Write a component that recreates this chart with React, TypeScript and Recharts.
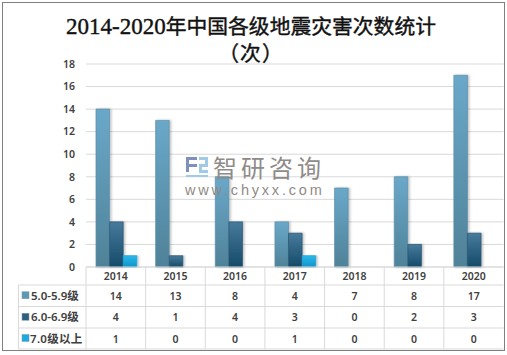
import React from 'react';
import { BarChart, Bar, XAxis, YAxis, CartesianGrid } from 'recharts';

const years = ['2014', '2015', '2016', '2017', '2018', '2019', '2020'];
const mag5 = [14, 13, 8, 4, 7, 8, 17];
const mag6 = [4, 1, 4, 3, 0, 2, 3];
const mag7 = [1, 0, 0, 1, 0, 0, 0];
const yTicks = [0, 2, 4, 6, 8, 10, 12, 14, 16, 18];

const seriesKeys = ['mag5', 'mag6', 'mag7'];
const seriesNames = ['5.0-5.9级', '6.0-6.9级', '7.0级以上'];
const seriesFills = ['url(#g5)', 'url(#g6)', 'url(#g7)'];
const seriesStrokes = ['#5b8ca6', '#2a5570', '#1a9ccf'];
const legendColors = ['#5f97b5', '#2f5f7f', '#1aa9e0'];
const seriesValues = [mag5, mag6, mag7];

const data = years.map((year, i) => ({ year, mag5: mag5[i], mag6: mag6[i], mag7: mag7[i] }));

const WIDTH = 507;
const HEIGHT = 355;
const PLOT_LEFT = 86;
const PLOT_RIGHT = 503.5;
const PLOT_TOP = 64;
const PLOT_BOTTOM = 267;
const TABLE_LEFT = 18.5;
const AXIS_W = 30;
const rowLines = [267, 285, 306.5, 328, 349];
const GRID = '#d9d9d9';
const TEXT = '#404040';
const cellFont = '"Noto Sans", "Noto Sans CJK SC", sans-serif';

const DataTable = () => {
  const colW = (PLOT_RIGHT - PLOT_LEFT) / years.length;
  const colX = (i: number) => PLOT_LEFT + colW * i;
  const midY = (r: number) => (rowLines[r] + rowLines[r + 1]) / 2 + 4;
  return (
    <svg width={WIDTH} height={HEIGHT} style={{ position: 'absolute', left: 0, top: 0 }}>
      {rowLines.map((y, i) => (
        <line key={y} x1={i === 0 ? PLOT_LEFT : TABLE_LEFT} x2={PLOT_RIGHT} y1={y} y2={y} stroke={GRID} />
      ))}
      <line x1={TABLE_LEFT} x2={TABLE_LEFT} y1={rowLines[1]} y2={rowLines[4]} stroke={GRID} />
      {years.map((_, i) => (
        <line key={i} x1={colX(i)} x2={colX(i)} y1={rowLines[0]} y2={rowLines[4]} stroke={GRID} />
      ))}
      {years.map((year, i) => (
        <text key={year} x={colX(i) + colW / 2} y={midY(0)} textAnchor="middle" fontSize={10.5} fontWeight={600} fontFamily={cellFont} fill={TEXT}>
          {year}
        </text>
      ))}
      {seriesNames.map((name, r) => (
        <g key={name}>
          <rect x={22} y={midY(r + 1) - 8} width={7} height={7} fill={legendColors[r]} stroke="#7c9cad" strokeWidth={0.5} />
          <text x={r === 2 ? 30 : 31} y={midY(r + 1)} fontSize={11.5} fontWeight={600} letterSpacing={r === 2 ? 0.3 : 0} fontFamily={cellFont} fill={TEXT}>
            {name}
          </text>
          {seriesValues[r].map((v, i) => (
            <text key={i} x={colX(i) + colW / 2} y={midY(r + 1)} textAnchor="middle" fontSize={10.5} fontWeight={600} fontFamily={cellFont} fill={TEXT}>
              {v}
            </text>
          ))}
        </g>
      ))}
    </svg>
  );
};

const Watermark = () => (
  <div style={{ position: 'absolute', left: 185, top: 154, width: 146, color: '#8f8b88' }}>
    <svg width={26} height={24} style={{ position: 'absolute', left: 1, top: 3 }}>
      <path d="M0 0h11v3H3v4h8v3H3v5H0z" fill="#7f90bd" />
      <path d="M13 0h9v10h-6v3h6v3H13V7h6V3h-6zM0 18h22v2H0z" fill="#9fcbe6" />
    </svg>
    <div style={{ position: 'absolute', left: 28, top: 0, fontSize: 24, lineHeight: '26px', letterSpacing: 4, whiteSpace: 'nowrap', fontFamily: '"Noto Sans CJK SC", sans-serif' }}>
      智研咨询
    </div>
    <div style={{ position: 'absolute', left: 0, top: 27, fontSize: 14.5, lineHeight: '18px', letterSpacing: 2.8, whiteSpace: 'nowrap', fontFamily: '"Liberation Sans", sans-serif' }}>
      www.chyxx.com
    </div>
  </div>
);

const App: React.FC = () => (
  <div style={{ position: 'absolute', left: 0, top: 0, width: WIDTH, height: HEIGHT, background: '#fff', overflow: 'hidden' }}>
    <div style={{ position: 'absolute', left: 2, top: 2, width: 501, height: 347, border: '1.5px solid #808080' }} />
    <div style={{ position: 'absolute', left: 0, top: 13, width: 502, textAlign: 'center', fontFamily: '"Liberation Serif", "Noto Sans CJK SC", serif', fontSize: 20.8, lineHeight: '27px', fontWeight: 400, color: '#111', WebkitTextStroke: '0.4px #111' }}>
      <span style={{ fontSize: 23 }}>2014-2020</span>年中国各级地震灾害次数统计
      <br />
      <span style={{ letterSpacing: 1 }}>（次）</span>
    </div>
    <BarChart
      width={WIDTH}
      height={HEIGHT}
      data={data}
      barSize={13.6}
      barGap={0}
      margin={{ top: PLOT_TOP, right: WIDTH - PLOT_RIGHT, left: PLOT_LEFT - AXIS_W, bottom: HEIGHT - PLOT_BOTTOM }}
      style={{ position: 'absolute', left: 0, top: 0 }}
    >
      <defs>
        <linearGradient id="g5" x1="0" y1="0" x2="0" y2="1">
          <stop offset="0%" stopColor="#6aa8c9" />
          <stop offset="100%" stopColor="#4f8298" />
        </linearGradient>
        <linearGradient id="g6" x1="0" y1="0" x2="0" y2="1">
          <stop offset="0%" stopColor="#477a9c" />
          <stop offset="100%" stopColor="#154b69" />
        </linearGradient>
        <linearGradient id="g7" x1="0" y1="0" x2="0" y2="1">
          <stop offset="0%" stopColor="#2bb9ec" />
          <stop offset="100%" stopColor="#0f94c8" />
        </linearGradient>
        <filter id="barShadow" x="-30%" y="-5%" width="160%" height="110%">
          <feDropShadow dx="1.5" dy="0" stdDeviation="1" floodColor="#000" floodOpacity="0.25" />
        </filter>
      </defs>
      <CartesianGrid vertical={false} stroke={GRID} />
      <XAxis dataKey="year" hide padding={{ left: 1, right: -1 }} />
      <YAxis
        width={AXIS_W}
        domain={[0, 18]}
        ticks={yTicks}
        interval={0}
        axisLine={false}
        tickLine={false}
        tickMargin={5}
        tick={{ fontSize: 10.5, fontWeight: 600, fill: TEXT, fontFamily: cellFont }}
      />
      {seriesNames.map((name, i) => (
        <Bar
          key={name}
          dataKey={seriesKeys[i]}
          fill={seriesFills[i]}
          stroke={seriesStrokes[i]}
          strokeWidth={0.7}
          filter="url(#barShadow)"
          isAnimationActive={false}
        />
      ))}
    </BarChart>
    <DataTable />
    <Watermark />
  </div>
);

export default App;
